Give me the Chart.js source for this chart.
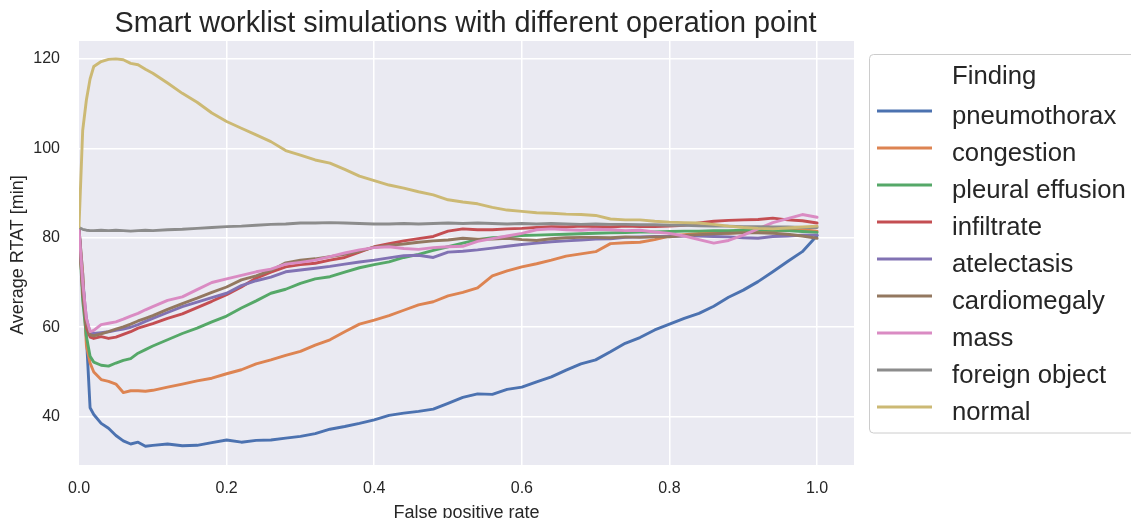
<!DOCTYPE html>
<html><head><meta charset="utf-8">
<script src="https://cdn.jsdelivr.net/npm/chart.js@4/dist/chart.umd.min.js"></script>
<style>html,body{margin:0;padding:0;background:#fff;overflow:hidden}#wrap{width:1131px;height:518px;position:relative}</style>
</head><body><div id="wrap"><canvas id="c" width="1131" height="518"></canvas></div>
<script>
// ---- data ----
const fpr = [0, 0.005, 0.01, 0.015, 0.02, 0.03, 0.04, 0.05, 0.06, 0.07, 0.08, 0.09, 0.10,
  0.12, 0.14, 0.16, 0.18, 0.20, 0.22, 0.24, 0.26, 0.28, 0.30,
  0.32, 0.34, 0.36, 0.38, 0.40, 0.42, 0.44, 0.46, 0.48, 0.50,
  0.52, 0.54, 0.56, 0.58, 0.60, 0.62, 0.64, 0.66, 0.68, 0.70,
  0.72, 0.74, 0.76, 0.78, 0.80, 0.82, 0.84, 0.86, 0.88, 0.90,
  0.92, 0.94, 0.96, 0.98, 1.00];

const pneumothorax = [82, 72, 58, 42, 40.5, 38.5, 37.4, 35.8, 34.6, 33.9, 34.3, 33.4, 33.6,
  33.9, 33.5, 33.6, 34.2, 34.8, 34.3, 34.7, 34.8, 35.2, 35.6,
  36.2, 37.2, 37.8, 38.5, 39.3, 40.3, 40.8, 41.2, 41.7, 43.0,
  44.3, 45.1, 45.0, 46.1, 46.6, 47.8, 48.9, 50.4, 51.8, 52.7,
  54.5, 56.4, 57.7, 59.4, 60.7, 62.0, 63.1, 64.7, 66.7, 68.3,
  70.2, 72.4, 74.7, 76.9, 80.5];

const congestion = [82, 72, 56, 52, 50, 48.3, 47.9, 47.3, 45.4, 45.8, 45.8, 45.7, 45.9,
  46.6, 47.3, 48.0, 48.6, 49.6, 50.5, 51.8, 52.7, 53.7, 54.6,
  56.0, 57.2, 59.0, 60.7, 61.6, 62.6, 63.8, 65.0, 65.7, 67.0,
  67.8, 68.8, 71.5, 72.6, 73.5, 74.2, 75.0, 75.9, 76.4, 76.9,
  78.7, 78.9, 79.0, 79.6, 80.4, 80.7, 81.0, 81.2, 81.0, 81.3,
  81.5, 81.6, 81.7, 81.8, 81.5];

const pleuralEffusion = [82, 66, 58, 53.5, 52.2, 51.5, 51.3, 52.0, 52.6, 53.0, 54.2, 55.0, 55.8,
  57.2, 58.6, 59.8, 61.2, 62.5, 64.3, 65.9, 67.6, 68.5, 69.8,
  70.8, 71.3, 72.3, 73.3, 74.0, 74.6, 75.6, 76.3, 77.2, 78.0,
  78.8, 79.6, 80.0, 80.2, 80.5, 80.6, 80.7, 80.8, 80.9, 81.0,
  81.1, 81.2, 81.3, 81.3, 81.4, 81.5, 81.5, 81.6, 81.6, 81.7,
  81.8, 81.7, 81.6, 81.4, 81.2];

const infiltrate = [82, 68, 60, 57.8, 57.5, 57.9, 57.5, 57.8, 58.4, 59.0, 59.8, 60.3, 60.8,
  62.0, 63.0, 64.4, 65.8, 67.3, 69.0, 71.0, 72.3, 73.5, 74.0,
  74.3, 75.0, 75.6, 76.8, 78.0, 78.7, 79.3, 79.8, 80.3, 81.5,
  82.0, 81.8, 81.8, 82.0, 82.1, 82.3, 82.5, 82.4, 82.6, 82.5,
  82.4, 82.6, 82.5, 82.5, 82.6, 82.8, 83.3, 83.7, 83.9, 84.0,
  84.1, 84.4, 84.0, 83.8, 83.3];

const atelectasis = [82, 70, 62, 58.8, 58.6, 58.8, 59.0, 59.3, 59.6, 60.0, 60.6, 61.3, 62.0,
  63.3, 64.6, 65.6, 66.6, 67.6, 69.3, 70.4, 71.2, 72.4, 72.8,
  73.2, 73.6, 74.1, 74.6, 75.0, 75.5, 76.0, 76.1, 75.6, 76.8,
  77.0, 77.3, 77.7, 78.1, 78.5, 78.8, 79.1, 79.3, 79.5, 79.7,
  79.8, 80.1, 80.2, 80.3, 80.3, 80.4, 80.4, 80.3, 80.2, 80.0,
  79.9, 80.3, 80.4, 80.6, 80.6];

const cardiomegaly = [82, 68, 61, 58.3, 58.1, 58.5, 59.0, 59.6, 60.1, 60.7, 61.4, 62.0, 62.6,
  64.0, 65.3, 66.5, 67.8, 69.0, 70.6, 71.5, 72.7, 74.4, 75.0,
  75.3, 75.8, 76.3, 77.0, 77.9, 78.3, 78.6, 79.0, 79.3, 79.5,
  79.9, 79.7, 79.7, 79.9, 79.6, 79.4, 79.8, 80.0, 80.1, 80.1,
  80.0, 80.2, 80.1, 80.2, 80.2, 80.5, 80.7, 80.9, 81.0, 81.1,
  81.1, 81.0, 80.8, 80.4, 79.9];

const mass = [82, 70, 62, 59.0, 59.3, 60.6, 60.9, 61.2, 61.8, 62.5, 63.1, 63.9, 64.6,
  66.0, 66.8, 68.4, 70.0, 70.8, 71.6, 72.4, 73.0, 74.1, 74.5,
  75.0, 75.8, 76.6, 77.3, 77.8, 78.0, 77.6, 77.4, 77.8, 78.0,
  78.1, 79.2, 79.8, 80.4, 81.0, 81.8, 82.0, 81.8, 81.7, 81.9,
  81.8, 81.6, 81.7, 81.3, 81.0, 80.4, 79.6, 78.8, 79.4, 80.6,
  82.0, 83.4, 84.3, 85.2, 84.6];

const foreignObject = [82.3, 81.9, 81.7, 81.6, 81.6, 81.7, 81.6, 81.7, 81.6, 81.5, 81.6, 81.7, 81.6,
  81.8, 81.9, 82.1, 82.3, 82.5, 82.6, 82.8, 83.0, 83.1, 83.3,
  83.3, 83.4, 83.3, 83.2, 83.1, 83.1, 83.2, 83.1, 83.2, 83.3,
  83.2, 83.3, 83.2, 83.1, 83.2, 83.1, 83.2, 83.1, 83.0, 83.1,
  83.0, 83.0, 82.9, 82.9, 82.8, 82.8, 82.7, 82.6, 82.6, 82.5,
  82.5, 82.4, 82.4, 82.3, 82.3];

const normal = [82.4, 104, 110.8, 115.5, 118.3, 119.4, 119.9, 120.0, 119.8, 119.0, 118.7, 117.7, 116.8,
  114.6, 112.3, 110.3, 107.9, 106.0, 104.5, 103.0, 101.5, 99.5, 98.5,
  97.4, 96.7, 95.3, 93.8, 92.8, 91.8, 91.1, 90.3, 89.6, 88.5,
  88.0, 87.6, 86.8, 86.2, 85.9, 85.6, 85.5, 85.3, 85.2, 85.0,
  84.2, 84.0, 84.0, 83.7, 83.5, 83.4, 83.3, 83.0, 82.6, 82.3,
  82.1, 82.0, 82.2, 82.4, 82.6];

const findingNames = ['pneumothorax', 'congestion', 'pleural effusion', 'infiltrate', 'atelectasis',
  'cardiomegaly', 'mass', 'foreign object', 'normal'];
const findingSeries = [pneumothorax, congestion, pleuralEffusion, infiltrate, atelectasis,
  cardiomegaly, mass, foreignObject, normal];
const xTicks = [0, 0.2, 0.4, 0.6, 0.8, 1.0];
const yTicks = [40, 60, 80, 100, 120];

// ---- styles ----
const palette = ['#4c72b0', '#dd8452', '#55a868', '#c44e52', '#8172b3', '#937860', '#da8bc3', '#8c8c8c', '#ccb974'];
const FONT = '"Liberation Sans", Arial, Helvetica, sans-serif';
const TEXT = '#262626';

const datasets = findingNames.map((name, i) => ({
  label: name,
  data: fpr.map((x, j) => ({x: x, y: findingSeries[i][j]})),
  borderColor: palette[i],
  backgroundColor: palette[i],
  borderWidth: 2.9,
  pointRadius: 0,
  tension: 0,
  fill: false,
  borderJoinStyle: 'round',
  borderCapStyle: 'round',
  order: findingNames.length - 1 - i
}));

const decor = {
  id: 'decor',
  beforeDraw(chart) {
    const {ctx, chartArea: a} = chart;
    ctx.save();
    ctx.fillStyle = '#eaeaf2';
    ctx.fillRect(a.left, a.top, a.right - a.left, a.bottom - a.top);
    ctx.restore();
  },
  afterDraw(chart) {
    const {ctx, chartArea: a} = chart;
    ctx.save();
    ctx.fillStyle = TEXT;
    // title
    ctx.font = '28.8px ' + FONT;
    ctx.textAlign = 'center';
    ctx.textBaseline = 'alphabetic';
    ctx.fillText('Smart worklist simulations with different operation point', 465.5, 31.5);
    // axis labels
    ctx.font = '18px ' + FONT;
    ctx.fillText('False positive rate', (a.left + a.right) / 2, 518);
    ctx.save();
    ctx.translate(22.5, 255);
    ctx.rotate(-Math.PI / 2);
    ctx.fillText('Average RTAT [min]', 0, 0);
    ctx.restore();
    // legend box
    const bx = 869.5, by = 54.5, bw = 300, bh = 378.5, r = 4;
    ctx.beginPath();
    ctx.moveTo(bx + r, by);
    ctx.lineTo(bx + bw - r, by);
    ctx.arcTo(bx + bw, by, bx + bw, by + r, r);
    ctx.lineTo(bx + bw, by + bh - r);
    ctx.arcTo(bx + bw, by + bh, bx + bw - r, by + bh, r);
    ctx.lineTo(bx + r, by + bh);
    ctx.arcTo(bx, by + bh, bx, by + bh - r, r);
    ctx.lineTo(bx, by + r);
    ctx.arcTo(bx, by, bx + r, by, r);
    ctx.closePath();
    ctx.fillStyle = '#ffffff';
    ctx.fill();
    ctx.strokeStyle = '#cccccc';
    ctx.lineWidth = 1;
    ctx.stroke();
    // legend content
    ctx.fillStyle = TEXT;
    ctx.font = '25.7px ' + FONT;
    ctx.textAlign = 'left';
    ctx.fillText('Finding', 952, 83.5);
    chart.data.datasets.forEach((ds, i) => {
      const y = 111 + 37 * i;
      ctx.beginPath();
      ctx.moveTo(877, y);
      ctx.lineTo(932, y);
      ctx.strokeStyle = ds.borderColor;
      ctx.lineWidth = 3;
      ctx.lineCap = 'butt';
      ctx.stroke();
      ctx.fillStyle = TEXT;
      ctx.fillText(ds.label, 952, y + 12.5);
    });
    ctx.restore();
  }
};

new Chart(document.getElementById('c'), {
  type: 'line',
  data: {datasets},
  options: {
    responsive: false,
    animation: false,
    devicePixelRatio: 1,
    layout: {padding: {left: 0, top: 41, right: 277, bottom: 0}},
    plugins: {legend: {display: false}, title: {display: false}, tooltip: {enabled: false}},
    scales: {
      x: {
        type: 'linear', min: 0, max: 1.05,
        afterBuildTicks: s => { s.ticks = xTicks.map(v => ({value: v})); },
        afterFit: s => { s.height = 53; },
        border: {display: false},
        grid: {color: c => (c.tick && c.tick.value === 0) ? 'rgba(0,0,0,0)' : '#ffffff', lineWidth: 1.5, drawTicks: false},
        ticks: {padding: 14, color: TEXT, font: {family: FONT, size: 16}, maxRotation: 0, autoSkip: false,
                callback: v => Number(v).toFixed(1)}
      },
      y: {
        type: 'linear', min: 29.2, max: 124.0,
        afterBuildTicks: s => { s.ticks = yTicks.map(v => ({value: v})); },
        afterFit: s => { s.width = 79; },
        border: {display: false},
        grid: {color: '#ffffff', lineWidth: 1.5, drawTicks: false},
        ticks: {padding: 19, color: TEXT, font: {family: FONT, size: 16}, autoSkip: false,
                callback: v => String(v)}
      }
    }
  },
  plugins: [decor]
});
</script>
</body></html>
